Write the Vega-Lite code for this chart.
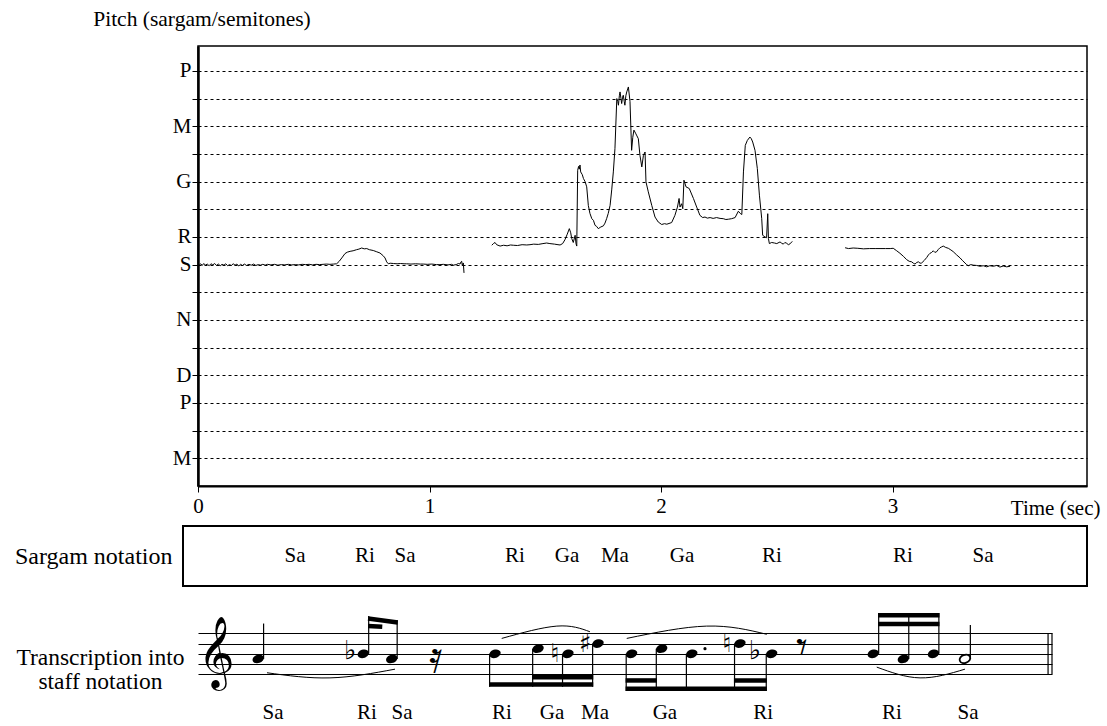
{
"$schema": "https://vega.github.io/schema/vega-lite/v6.json",
"background": "white",
"padding": {"left": 14, "top": 7, "right": 5, "bottom": 5},
"spacing": 40,
"bounds": "flush",
"resolve": {"scale": {"x": "independent", "y": "independent"}},
"datasets": {
"pitch": [
{"s":1,"t":0.005,"p":-0.02},{"s":1,"t":0.012,"p":0.03},{"s":1,"t":0.018,"p":-0.03},{"s":1,"t":0.025,"p":0.04},{"s":1,"t":0.032,"p":-0.02},{"s":1,"t":0.040,"p":0.02},{"s":1,"t":0.048,"p":-0.04},{"s":1,"t":0.056,"p":0.03},{"s":1,"t":0.064,"p":-0.01},{"s":1,"t":0.072,"p":0.04},{"s":1,"t":0.080,"p":-0.03},{"s":1,"t":0.088,"p":0.02},{"s":1,"t":0.096,"p":-0.04},{"s":1,"t":0.104,"p":0.01},{"s":1,"t":0.112,"p":-0.02},{"s":1,"t":0.120,"p":0.03},{"s":1,"t":0.128,"p":-0.04},{"s":1,"t":0.136,"p":0.00},{"s":1,"t":0.144,"p":-0.03},{"s":1,"t":0.152,"p":0.03},{"s":1,"t":0.160,"p":-0.02},{"s":1,"t":0.168,"p":0.02},{"s":1,"t":0.176,"p":-0.05},{"s":1,"t":0.184,"p":0.01},{"s":1,"t":0.192,"p":-0.03},{"s":1,"t":0.200,"p":0.02},{"s":1,"t":0.210,"p":-0.03},{"s":1,"t":0.220,"p":0.01},{"s":1,"t":0.230,"p":-0.02},{"s":1,"t":0.240,"p":0.02},{"s":1,"t":0.250,"p":-0.03},{"s":1,"t":0.260,"p":0.00},{"s":1,"t":0.270,"p":-0.02},{"s":1,"t":0.280,"p":0.01},{"s":1,"t":0.290,"p":-0.02},{"s":1,"t":0.300,"p":0.01},{"s":1,"t":0.315,"p":-0.01},{"s":1,"t":0.330,"p":0.01},{"s":1,"t":0.345,"p":-0.02},{"s":1,"t":0.360,"p":0.00},{"s":1,"t":0.375,"p":-0.01},{"s":1,"t":0.390,"p":0.01},{"s":1,"t":0.405,"p":-0.01},{"s":1,"t":0.420,"p":0.00},{"s":1,"t":0.435,"p":-0.01},{"s":1,"t":0.450,"p":0.01},{"s":1,"t":0.465,"p":0.00},{"s":1,"t":0.480,"p":0.01},{"s":1,"t":0.495,"p":-0.01},{"s":1,"t":0.510,"p":0.01},{"s":1,"t":0.525,"p":0.00},{"s":1,"t":0.540,"p":0.01},{"s":1,"t":0.555,"p":0.02},{"s":1,"t":0.570,"p":0.01},{"s":1,"t":0.585,"p":0.02},{"s":1,"t":0.599,"p":0.03},{"s":1,"t":0.610,"p":0.12},{"s":1,"t":0.621,"p":0.24},{"s":1,"t":0.635,"p":0.40},{"s":1,"t":0.645,"p":0.45},{"s":1,"t":0.657,"p":0.48},{"s":1,"t":0.670,"p":0.50},{"s":1,"t":0.685,"p":0.54},{"s":1,"t":0.695,"p":0.56},{"s":1,"t":0.707,"p":0.60},{"s":1,"t":0.718,"p":0.57},{"s":1,"t":0.729,"p":0.58},{"s":1,"t":0.740,"p":0.54},{"s":1,"t":0.757,"p":0.51},{"s":1,"t":0.770,"p":0.47},{"s":1,"t":0.786,"p":0.42},{"s":1,"t":0.800,"p":0.32},{"s":1,"t":0.808,"p":0.24},{"s":1,"t":0.815,"p":0.10},{"s":1,"t":0.822,"p":0.03},{"s":1,"t":0.830,"p":0.05},{"s":1,"t":0.844,"p":0.04},{"s":1,"t":0.860,"p":0.03},{"s":1,"t":0.875,"p":0.04},{"s":1,"t":0.890,"p":0.03},{"s":1,"t":0.901,"p":0.03},{"s":1,"t":0.920,"p":0.02},{"s":1,"t":0.940,"p":0.03},{"s":1,"t":0.960,"p":0.02},{"s":1,"t":0.973,"p":0.02},{"s":1,"t":0.990,"p":0.01},{"s":1,"t":1.010,"p":0.02},{"s":1,"t":1.030,"p":0.00},{"s":1,"t":1.045,"p":0.00},{"s":1,"t":1.060,"p":0.01},{"s":1,"t":1.080,"p":-0.01},{"s":1,"t":1.095,"p":0.01},{"s":1,"t":1.103,"p":-0.02},{"s":1,"t":1.115,"p":0.00},{"s":1,"t":1.125,"p":0.04},{"s":1,"t":1.132,"p":0.02},{"s":1,"t":1.136,"p":0.10},{"s":1,"t":1.139,"p":0.12},{"s":1,"t":1.142,"p":-0.05},{"s":1,"t":1.146,"p":0.06},{"s":1,"t":1.149,"p":-0.30},
{"s":2,"t":1.269,"p":0.70},{"s":2,"t":1.276,"p":0.76},{"s":2,"t":1.283,"p":0.80},{"s":2,"t":1.290,"p":0.72},{"s":2,"t":1.305,"p":0.67},{"s":2,"t":1.320,"p":0.70},{"s":2,"t":1.335,"p":0.68},{"s":2,"t":1.350,"p":0.71},{"s":2,"t":1.362,"p":0.70},{"s":2,"t":1.380,"p":0.69},{"s":2,"t":1.400,"p":0.72},{"s":2,"t":1.420,"p":0.71},{"s":2,"t":1.434,"p":0.72},{"s":2,"t":1.450,"p":0.74},{"s":2,"t":1.470,"p":0.73},{"s":2,"t":1.490,"p":0.76},{"s":2,"t":1.506,"p":0.78},{"s":2,"t":1.520,"p":0.76},{"s":2,"t":1.540,"p":0.74},{"s":2,"t":1.555,"p":0.72},{"s":2,"t":1.564,"p":0.71},{"s":2,"t":1.575,"p":0.76},{"s":2,"t":1.585,"p":0.90},{"s":2,"t":1.595,"p":1.10},{"s":2,"t":1.604,"p":1.30},{"s":2,"t":1.610,"p":1.15},{"s":2,"t":1.614,"p":0.95},{"s":2,"t":1.621,"p":0.80},{"s":2,"t":1.629,"p":1.06},{"s":2,"t":1.633,"p":0.75},{"s":2,"t":1.636,"p":0.67},{"s":2,"t":1.640,"p":3.41},{"s":2,"t":1.644,"p":3.55},{"s":2,"t":1.647,"p":3.45},{"s":2,"t":1.650,"p":3.60},{"s":2,"t":1.653,"p":3.35},{"s":2,"t":1.660,"p":3.25},{"s":2,"t":1.665,"p":3.11},{"s":2,"t":1.672,"p":3.00},{"s":2,"t":1.679,"p":2.81},{"s":2,"t":1.686,"p":2.14},{"s":2,"t":1.693,"p":1.85},{"s":2,"t":1.701,"p":1.66},{"s":2,"t":1.708,"p":1.60},{"s":2,"t":1.715,"p":1.42},{"s":2,"t":1.722,"p":1.38},{"s":2,"t":1.729,"p":1.30},{"s":2,"t":1.740,"p":1.36},{"s":2,"t":1.751,"p":1.40},{"s":2,"t":1.758,"p":1.50},{"s":2,"t":1.765,"p":1.66},{"s":2,"t":1.772,"p":1.85},{"s":2,"t":1.780,"p":2.14},{"s":2,"t":1.787,"p":2.70},{"s":2,"t":1.794,"p":3.35},{"s":2,"t":1.801,"p":4.19},{"s":2,"t":1.809,"p":6.00},{"s":2,"t":1.813,"p":5.90},{"s":2,"t":1.816,"p":5.76},{"s":2,"t":1.820,"p":6.10},{"s":2,"t":1.823,"p":6.24},{"s":2,"t":1.827,"p":6.00},{"s":2,"t":1.830,"p":5.82},{"s":2,"t":1.834,"p":6.05},{"s":2,"t":1.837,"p":6.12},{"s":2,"t":1.841,"p":5.90},{"s":2,"t":1.844,"p":5.76},{"s":2,"t":1.848,"p":6.10},{"s":2,"t":1.852,"p":6.24},{"s":2,"t":1.859,"p":6.42},{"s":2,"t":1.866,"p":5.90},{"s":2,"t":1.873,"p":4.13},{"s":2,"t":1.878,"p":4.60},{"s":2,"t":1.883,"p":4.86},{"s":2,"t":1.890,"p":4.75},{"s":2,"t":1.896,"p":4.65},{"s":2,"t":1.902,"p":4.55},{"s":2,"t":1.909,"p":3.95},{"s":2,"t":1.917,"p":3.53},{"s":2,"t":1.924,"p":3.95},{"s":2,"t":1.931,"p":4.07},{"s":2,"t":1.935,"p":2.99},{"s":2,"t":1.945,"p":2.63},{"s":2,"t":1.960,"p":2.14},{"s":2,"t":1.974,"p":1.72},{"s":2,"t":1.988,"p":1.54},{"s":2,"t":2.003,"p":1.45},{"s":2,"t":2.015,"p":1.48},{"s":2,"t":2.025,"p":1.46},{"s":2,"t":2.046,"p":1.52},{"s":2,"t":2.060,"p":1.78},{"s":2,"t":2.071,"p":2.08},{"s":2,"t":2.078,"p":2.39},{"s":2,"t":2.082,"p":2.08},{"s":2,"t":2.089,"p":2.20},{"s":2,"t":2.094,"p":2.02},{"s":2,"t":2.099,"p":3.05},{"s":2,"t":2.108,"p":2.81},{"s":2,"t":2.122,"p":2.75},{"s":2,"t":2.140,"p":2.39},{"s":2,"t":2.154,"p":2.08},{"s":2,"t":2.168,"p":1.78},{"s":2,"t":2.180,"p":1.70},{"s":2,"t":2.190,"p":1.72},{"s":2,"t":2.200,"p":1.68},{"s":2,"t":2.212,"p":1.70},{"s":2,"t":2.225,"p":1.67},{"s":2,"t":2.240,"p":1.70},{"s":2,"t":2.255,"p":1.67},{"s":2,"t":2.269,"p":1.66},{"s":2,"t":2.280,"p":1.63},{"s":2,"t":2.291,"p":1.64},{"s":2,"t":2.305,"p":1.66},{"s":2,"t":2.320,"p":1.70},{"s":2,"t":2.334,"p":1.93},{"s":2,"t":2.342,"p":1.85},{"s":2,"t":2.349,"p":1.81},{"s":2,"t":2.356,"p":3.35},{"s":2,"t":2.364,"p":4.31},{"s":2,"t":2.373,"p":4.49},{"s":2,"t":2.384,"p":4.61},{"s":2,"t":2.390,"p":4.55},{"s":2,"t":2.396,"p":4.43},{"s":2,"t":2.406,"p":4.13},{"s":2,"t":2.416,"p":3.47},{"s":2,"t":2.425,"p":2.51},{"s":2,"t":2.435,"p":1.66},{"s":2,"t":2.439,"p":1.06},{"s":2,"t":2.449,"p":1.00},{"s":2,"t":2.456,"p":0.97},{"s":2,"t":2.461,"p":1.84},{"s":2,"t":2.464,"p":0.94},{"s":2,"t":2.468,"p":0.76},{"s":2,"t":2.478,"p":0.80},{"s":2,"t":2.490,"p":0.78},{"s":2,"t":2.500,"p":0.76},{"s":2,"t":2.514,"p":0.82},{"s":2,"t":2.520,"p":0.78},{"s":2,"t":2.528,"p":0.74},{"s":2,"t":2.535,"p":0.80},{"s":2,"t":2.543,"p":0.77},{"s":2,"t":2.550,"p":0.72},{"s":2,"t":2.557,"p":0.75},{"s":2,"t":2.567,"p":0.84},
{"s":3,"t":2.795,"p":0.61},{"s":3,"t":2.810,"p":0.58},{"s":3,"t":2.830,"p":0.60},{"s":3,"t":2.850,"p":0.59},{"s":3,"t":2.874,"p":0.57},{"s":3,"t":2.900,"p":0.58},{"s":3,"t":2.925,"p":0.58},{"s":3,"t":2.946,"p":0.58},{"s":3,"t":2.970,"p":0.58},{"s":3,"t":2.990,"p":0.58},{"s":3,"t":3.003,"p":0.59},{"s":3,"t":3.018,"p":0.50},{"s":3,"t":3.032,"p":0.41},{"s":3,"t":3.047,"p":0.30},{"s":3,"t":3.061,"p":0.18},{"s":3,"t":3.072,"p":0.12},{"s":3,"t":3.083,"p":0.10},{"s":3,"t":3.090,"p":0.05},{"s":3,"t":3.097,"p":0.02},{"s":3,"t":3.105,"p":0.08},{"s":3,"t":3.112,"p":0.10},{"s":3,"t":3.119,"p":0.05},{"s":3,"t":3.126,"p":0.06},{"s":3,"t":3.137,"p":0.15},{"s":3,"t":3.148,"p":0.26},{"s":3,"t":3.155,"p":0.35},{"s":3,"t":3.162,"p":0.41},{"s":3,"t":3.169,"p":0.44},{"s":3,"t":3.176,"p":0.50},{"s":3,"t":3.183,"p":0.44},{"s":3,"t":3.191,"p":0.47},{"s":3,"t":3.198,"p":0.55},{"s":3,"t":3.205,"p":0.61},{"s":3,"t":3.212,"p":0.64},{"s":3,"t":3.219,"p":0.67},{"s":3,"t":3.230,"p":0.62},{"s":3,"t":3.241,"p":0.59},{"s":3,"t":3.252,"p":0.53},{"s":3,"t":3.262,"p":0.47},{"s":3,"t":3.277,"p":0.35},{"s":3,"t":3.292,"p":0.24},{"s":3,"t":3.303,"p":0.14},{"s":3,"t":3.313,"p":0.06},{"s":3,"t":3.320,"p":0.00},{"s":3,"t":3.327,"p":-0.04},{"s":3,"t":3.338,"p":0.00},{"s":3,"t":3.349,"p":-0.02},{"s":3,"t":3.363,"p":-0.03},{"s":3,"t":3.378,"p":-0.06},{"s":3,"t":3.392,"p":-0.04},{"s":3,"t":3.407,"p":-0.08},{"s":3,"t":3.420,"p":-0.04},{"s":3,"t":3.435,"p":-0.06},{"s":3,"t":3.450,"p":-0.03},{"s":3,"t":3.464,"p":-0.09},{"s":3,"t":3.478,"p":-0.05},{"s":3,"t":3.493,"p":-0.08},{"s":3,"t":3.508,"p":-0.06}
],
"sargam": [
{"row":"s","t":0.419,"label":"Sa"},{"row":"s","t":0.721,"label":"Ri"},{"row":"s","t":0.894,"label":"Sa"},{"row":"s","t":1.369,"label":"Ri"},{"row":"s","t":1.594,"label":"Ga"},{"row":"s","t":1.801,"label":"Ma"},{"row":"s","t":2.091,"label":"Ga"},{"row":"s","t":2.479,"label":"Ri"},{"row":"s","t":3.045,"label":"Ri"},{"row":"s","t":3.391,"label":"Sa"}
],
"notes": [
{"id":1,"t":0.260,"step":3,"kind":"q","dir":"up","stem":9.9},
{"id":2,"t":0.714,"step":4,"kind":"e","dir":"up","stem":11.35},
{"id":3,"t":0.837,"step":3,"kind":"e","dir":"up","stem":10.55},
{"id":4,"t":1.283,"step":4,"kind":"e","dir":"down","stem":-2.45},
{"id":5,"t":1.469,"step":5,"kind":"e","dir":"down","stem":-2.45},
{"id":6,"t":1.598,"step":4,"kind":"e","dir":"down","stem":-2.45},
{"id":7,"t":1.728,"step":6,"kind":"e","dir":"down","stem":-2.45},
{"id":8,"t":1.873,"step":4,"kind":"e","dir":"down","stem":-3.25},
{"id":9,"t":2.003,"step":5,"kind":"e","dir":"down","stem":-3.25},
{"id":10,"t":2.133,"step":4,"kind":"e","dir":"down","stem":-3.25},
{"id":11,"t":2.341,"step":6,"kind":"e","dir":"down","stem":-3.25},
{"id":12,"t":2.478,"step":4,"kind":"e","dir":"down","stem":-3.25},
{"id":13,"t":2.917,"step":4,"kind":"e","dir":"up","stem":11.95},
{"id":14,"t":3.047,"step":3,"kind":"e","dir":"up","stem":11.95},
{"id":15,"t":3.177,"step":4,"kind":"e","dir":"up","stem":11.95},
{"id":16,"t":3.313,"step":3,"kind":"h","dir":"up","stem":9.6}
],
"beams": [
{"t1":0.714,"t2":0.837,"s1":10.9,"s2":10.1,"dir":"up"},
{"t1":0.714,"t2":0.770,"s1":9.4,"s2":9.25,"dir":"up"},
{"t1":1.283,"t2":1.728,"s1":-2.0,"s2":-2.0,"dir":"down"},
{"t1":1.469,"t2":1.728,"s1":-0.6,"s2":-0.6,"dir":"down"},
{"t1":1.873,"t2":2.478,"s1":-2.8,"s2":-2.8,"dir":"down"},
{"t1":1.873,"t2":2.003,"s1":-1.2,"s2":-1.2,"dir":"down"},
{"t1":2.341,"t2":2.478,"s1":-1.2,"s2":-1.2,"dir":"down"},
{"t1":2.917,"t2":3.177,"s1":11.5,"s2":11.5,"dir":"up"},
{"t1":2.917,"t2":3.177,"s1":9.8,"s2":9.8,"dir":"up"}
],
"symbols": [
{"t":0.078,"step":4,"g":"𝄞","k":"clef"},
{"t":0.657,"step":4.6,"g":"♭","k":"acc"},
{"t":1.542,"step":4,"g":"♮","k":"acc"},
{"t":1.672,"step":6,"g":"♯","k":"acc"},
{"t":2.285,"step":6,"g":"♮","k":"acc"},
{"t":2.406,"step":4.6,"g":"♭","k":"acc"},
{"t":1.024,"step":3,"g":"𝄿","k":"rest"},
{"t":2.608,"step":5,"g":"𝄾","k":"rest"}
],
"dots": [{"t":2.190,"step":5}],
"slurs": [
{"id":1,"t":0.298,"step":0.3},{"id":1,"t":0.570,"step":-0.7},{"id":1,"t":0.851,"step":1.0},
{"id":2,"t":1.312,"step":7.0},{"id":2,"t":1.550,"step":9.4},{"id":2,"t":1.693,"step":8.3},
{"id":3,"t":1.852,"step":7.0},{"id":3,"t":2.197,"step":9.4},{"id":3,"t":2.457,"step":7.8},
{"id":4,"t":2.932,"step":1.4},{"id":4,"t":3.119,"step":-0.7},{"id":4,"t":3.313,"step":1.0}
],
"bars": [{"t":3.672,"s1":0,"s2":8},{"t":3.689,"s1":0,"s2":8}],
"lyrics": [
{"t":0.324,"label":"Sa"},{"t":0.730,"label":"Ri"},{"t":0.881,"label":"Sa"},{"t":1.313,"label":"Ri"},{"t":1.529,"label":"Ga"},{"t":1.715,"label":"Ma"},{"t":2.017,"label":"Ga"},{"t":2.441,"label":"Ri"},{"t":2.998,"label":"Ri"},{"t":3.326,"label":"Sa"}
]
},
"vconcat": [
{
"width": 889, "height": 440,
"view": {"stroke": "black", "strokeWidth": 1.5},
"data": {"name": "pitch"},
"mark": {"type": "line", "color": "black", "strokeWidth": 1},
"encoding": {
"x": {"field": "t", "type": "quantitative", "scale": {"domain": [0, 3.84], "nice": false, "zero": false},
"axis": {"values": [0, 1, 2, 3], "grid": false, "tickColor": "black", "tickSize": 6, "domainColor": "black", "domainWidth": 2, "labelFontSize": 21, "labelPadding": 3, "labelFlush": false, "title": "Time (sec)", "titleFontSize": 21, "titleAlign": "right", "titleBaseline": "middle", "titleX": 902, "titleY": 22, "titleAngle": 0}},
"y": {"field": "p", "type": "quantitative", "scale": {"domain": [-8, 7.9], "nice": false, "zero": false},
"axis": {"values": [-7,-6,-5,-4,-3,-2,-1,0,1,2,3,4,5,6,7],
"labelExpr": "datum.value==7?'P':datum.value==5?'M':datum.value==3?'G':datum.value==1?'R':datum.value==0?'S':datum.value==-2?'N':datum.value==-4?'D':datum.value==-5?'P':datum.value==-7?'M':''",
"grid": true, "gridDash": [3, 3], "gridColor": "black", "gridOpacity": 1, "gridWidth": 1,
"tickColor": "black", "tickSize": 6, "domainColor": "black", "domainWidth": 2.5,
"labelFontSize": 21, "labelPadding": 1,
"title": "Pitch (sargam/semitones)", "titleFontSize": 21.5, "titleAngle": 0, "titleAlign": "center", "titleBaseline": "middle", "titleX": 3.5, "titleY": -27}},
"detail": {"field": "s", "type": "nominal"}
}
},
{
"width": 889, "height": 60,
"data": {"name": "sargam"},
"encoding": {
"y": {"field": "row", "type": "nominal", "scale": {"paddingInner": 0, "paddingOuter": 0},
"axis": {"labels": false, "ticks": false, "domain": false, "title": "Sargam notation", "titleFontSize": 24, "titleAngle": 0, "titleAlign": "right", "titleBaseline": "middle", "titleX": -26, "titleY": 30}}
},
"layer": [
{"mark": {"type": "rect", "fill": "white", "fillOpacity": 0, "stroke": "black", "strokeWidth": 1.5},
"encoding": {
"x": {"datum": -0.065, "type": "quantitative", "scale": {"domain": [0, 3.84], "nice": false, "zero": false}, "axis": null},
"x2": {"datum": 3.84}
}},
{"mark": {"type": "text", "fontSize": 21, "baseline": "middle"},
"encoding": {
"x": {"field": "t", "type": "quantitative", "axis": null},
"text": {"field": "label"}
}}
]
},
{
"width": 854, "height": 97,
"encoding": {
"y": {"type": "quantitative", "scale": {"domain": [-9.5, 9.42], "nice": false, "zero": false},
"axis": {"values": [0, 2, 4, 6, 8], "grid": true, "gridColor": "black", "gridWidth": 1, "gridOpacity": 1, "gridDash": [], "labels": false, "ticks": false, "domain": false,
"title": ["Transcription into", "staff notation"], "titleFontSize": 23.5, "titleLineHeight": 24, "titleAngle": 0, "titleAlign": "center", "titleBaseline": "middle", "titleX": -98, "titleY": 31.5}}
},
"layer": [
{"data": {"name": "notes"},
"transform": [{"filter": "datum.kind != 'h'"}],
"mark": {"type": "point", "filled": true, "color": "black", "opacity": 1, "size": 135, "shape": "M -0.94 0.342 C -1.077 -0.034 -0.763 -0.489 -0.246 -0.677 C 0.271 -0.865 0.803 -0.718 0.94 -0.342 C 1.077 0.034 0.763 0.489 0.246 0.677 C -0.271 0.865 -0.803 0.718 -0.94 0.342 Z"},
"encoding": {
"x": {"field": "t", "type": "quantitative", "scale": {"domain": [0, 3.689], "nice": false, "zero": false}, "axis": null},
"y": {"field": "step"}
}},
{"data": {"name": "notes"},
"transform": [{"filter": "datum.kind == 'h'"}],
"mark": {"type": "point", "filled": false, "color": "black", "opacity": 1, "strokeWidth": 1.8, "size": 120, "shape": "M -0.94 0.342 C -1.077 -0.034 -0.763 -0.489 -0.246 -0.677 C 0.271 -0.865 0.803 -0.718 0.94 -0.342 C 1.077 0.034 0.763 0.489 0.246 0.677 C -0.271 0.865 -0.803 0.718 -0.94 0.342 Z"},
"encoding": {
"x": {"field": "t", "type": "quantitative", "axis": null},
"y": {"field": "step"}
}},
{"data": {"name": "notes"},
"transform": [{"filter": "datum.dir == 'up'"}],
"mark": {"type": "rule", "color": "black", "strokeWidth": 1.2, "xOffset": 5.4},
"encoding": {
"x": {"field": "t", "type": "quantitative", "axis": null},
"y": {"field": "step"},
"y2": {"field": "stem"}
}},
{"data": {"name": "notes"},
"transform": [{"filter": "datum.dir == 'down'"}],
"mark": {"type": "rule", "color": "black", "strokeWidth": 1.2, "xOffset": -5.4},
"encoding": {
"x": {"field": "t", "type": "quantitative", "axis": null},
"y": {"field": "step"},
"y2": {"field": "stem"}
}},
{"data": {"name": "beams"},
"transform": [{"filter": "datum.dir == 'up'"}],
"mark": {"type": "rule", "color": "black", "strokeWidth": 4.5, "strokeCap": "butt", "xOffset": 4.8, "x2Offset": 6.0},
"encoding": {
"x": {"field": "t1", "type": "quantitative", "axis": null},
"x2": {"field": "t2"},
"y": {"field": "s1"},
"y2": {"field": "s2"}
}},
{"data": {"name": "beams"},
"transform": [{"filter": "datum.dir == 'down'"}],
"mark": {"type": "rule", "color": "black", "strokeWidth": 4.5, "strokeCap": "butt", "xOffset": -6.0, "x2Offset": -4.8},
"encoding": {
"x": {"field": "t1", "type": "quantitative", "axis": null},
"x2": {"field": "t2"},
"y": {"field": "s1"},
"y2": {"field": "s2"}
}},
{"data": {"name": "symbols"},
"transform": [{"filter": "datum.k == 'clef'"}],
"mark": {"type": "text", "font": "DejaVu Sans", "fontSize": 62, "baseline": "middle", "color": "black"},
"encoding": {
"x": {"field": "t", "type": "quantitative", "axis": null},
"y": {"field": "step"},
"text": {"field": "g"}
}},
{"data": {"name": "symbols"},
"transform": [{"filter": "datum.k == 'acc'"}],
"mark": {"type": "text", "font": "DejaVu Sans", "fontSize": 26, "baseline": "middle", "color": "black"},
"encoding": {
"x": {"field": "t", "type": "quantitative", "axis": null},
"y": {"field": "step"},
"text": {"field": "g"}
}},
{"data": {"name": "symbols"},
"transform": [{"filter": "datum.k == 'rest'"}],
"mark": {"type": "text", "font": "DejaVu Sans", "fontSize": 44, "baseline": "middle", "color": "black"},
"encoding": {
"x": {"field": "t", "type": "quantitative", "axis": null},
"y": {"field": "step"},
"text": {"field": "g"}
}},
{"data": {"name": "dots"},
"mark": {"type": "point", "filled": true, "color": "black", "opacity": 1, "size": 10},
"encoding": {
"x": {"field": "t", "type": "quantitative", "axis": null},
"y": {"field": "step"}
}},
{"data": {"name": "slurs"},
"mark": {"type": "line", "color": "black", "strokeWidth": 1, "interpolate": "natural"},
"encoding": {
"x": {"field": "t", "type": "quantitative", "axis": null},
"y": {"field": "step"},
"detail": {"field": "id", "type": "nominal"}
}},
{"data": {"name": "bars"},
"mark": {"type": "rule", "color": "black", "strokeWidth": 1.2},
"encoding": {
"x": {"field": "t", "type": "quantitative", "axis": null},
"y": {"field": "s1"},
"y2": {"field": "s2"}
}},
{"data": {"name": "lyrics"},
"mark": {"type": "text", "fontSize": 21, "baseline": "middle"},
"encoding": {
"x": {"field": "t", "type": "quantitative", "axis": null},
"y": {"datum": -7.55},
"text": {"field": "label"}
}}
]
}
],
"config": {
"font": "Liberation Serif",
"view": {"stroke": null},
"axis": {"labelFont": "Liberation Serif", "titleFont": "Liberation Serif", "labelColor": "black", "titleColor": "black", "titleFontWeight": "normal"},
"text": {"font": "Liberation Serif", "color": "black"}
}
}
